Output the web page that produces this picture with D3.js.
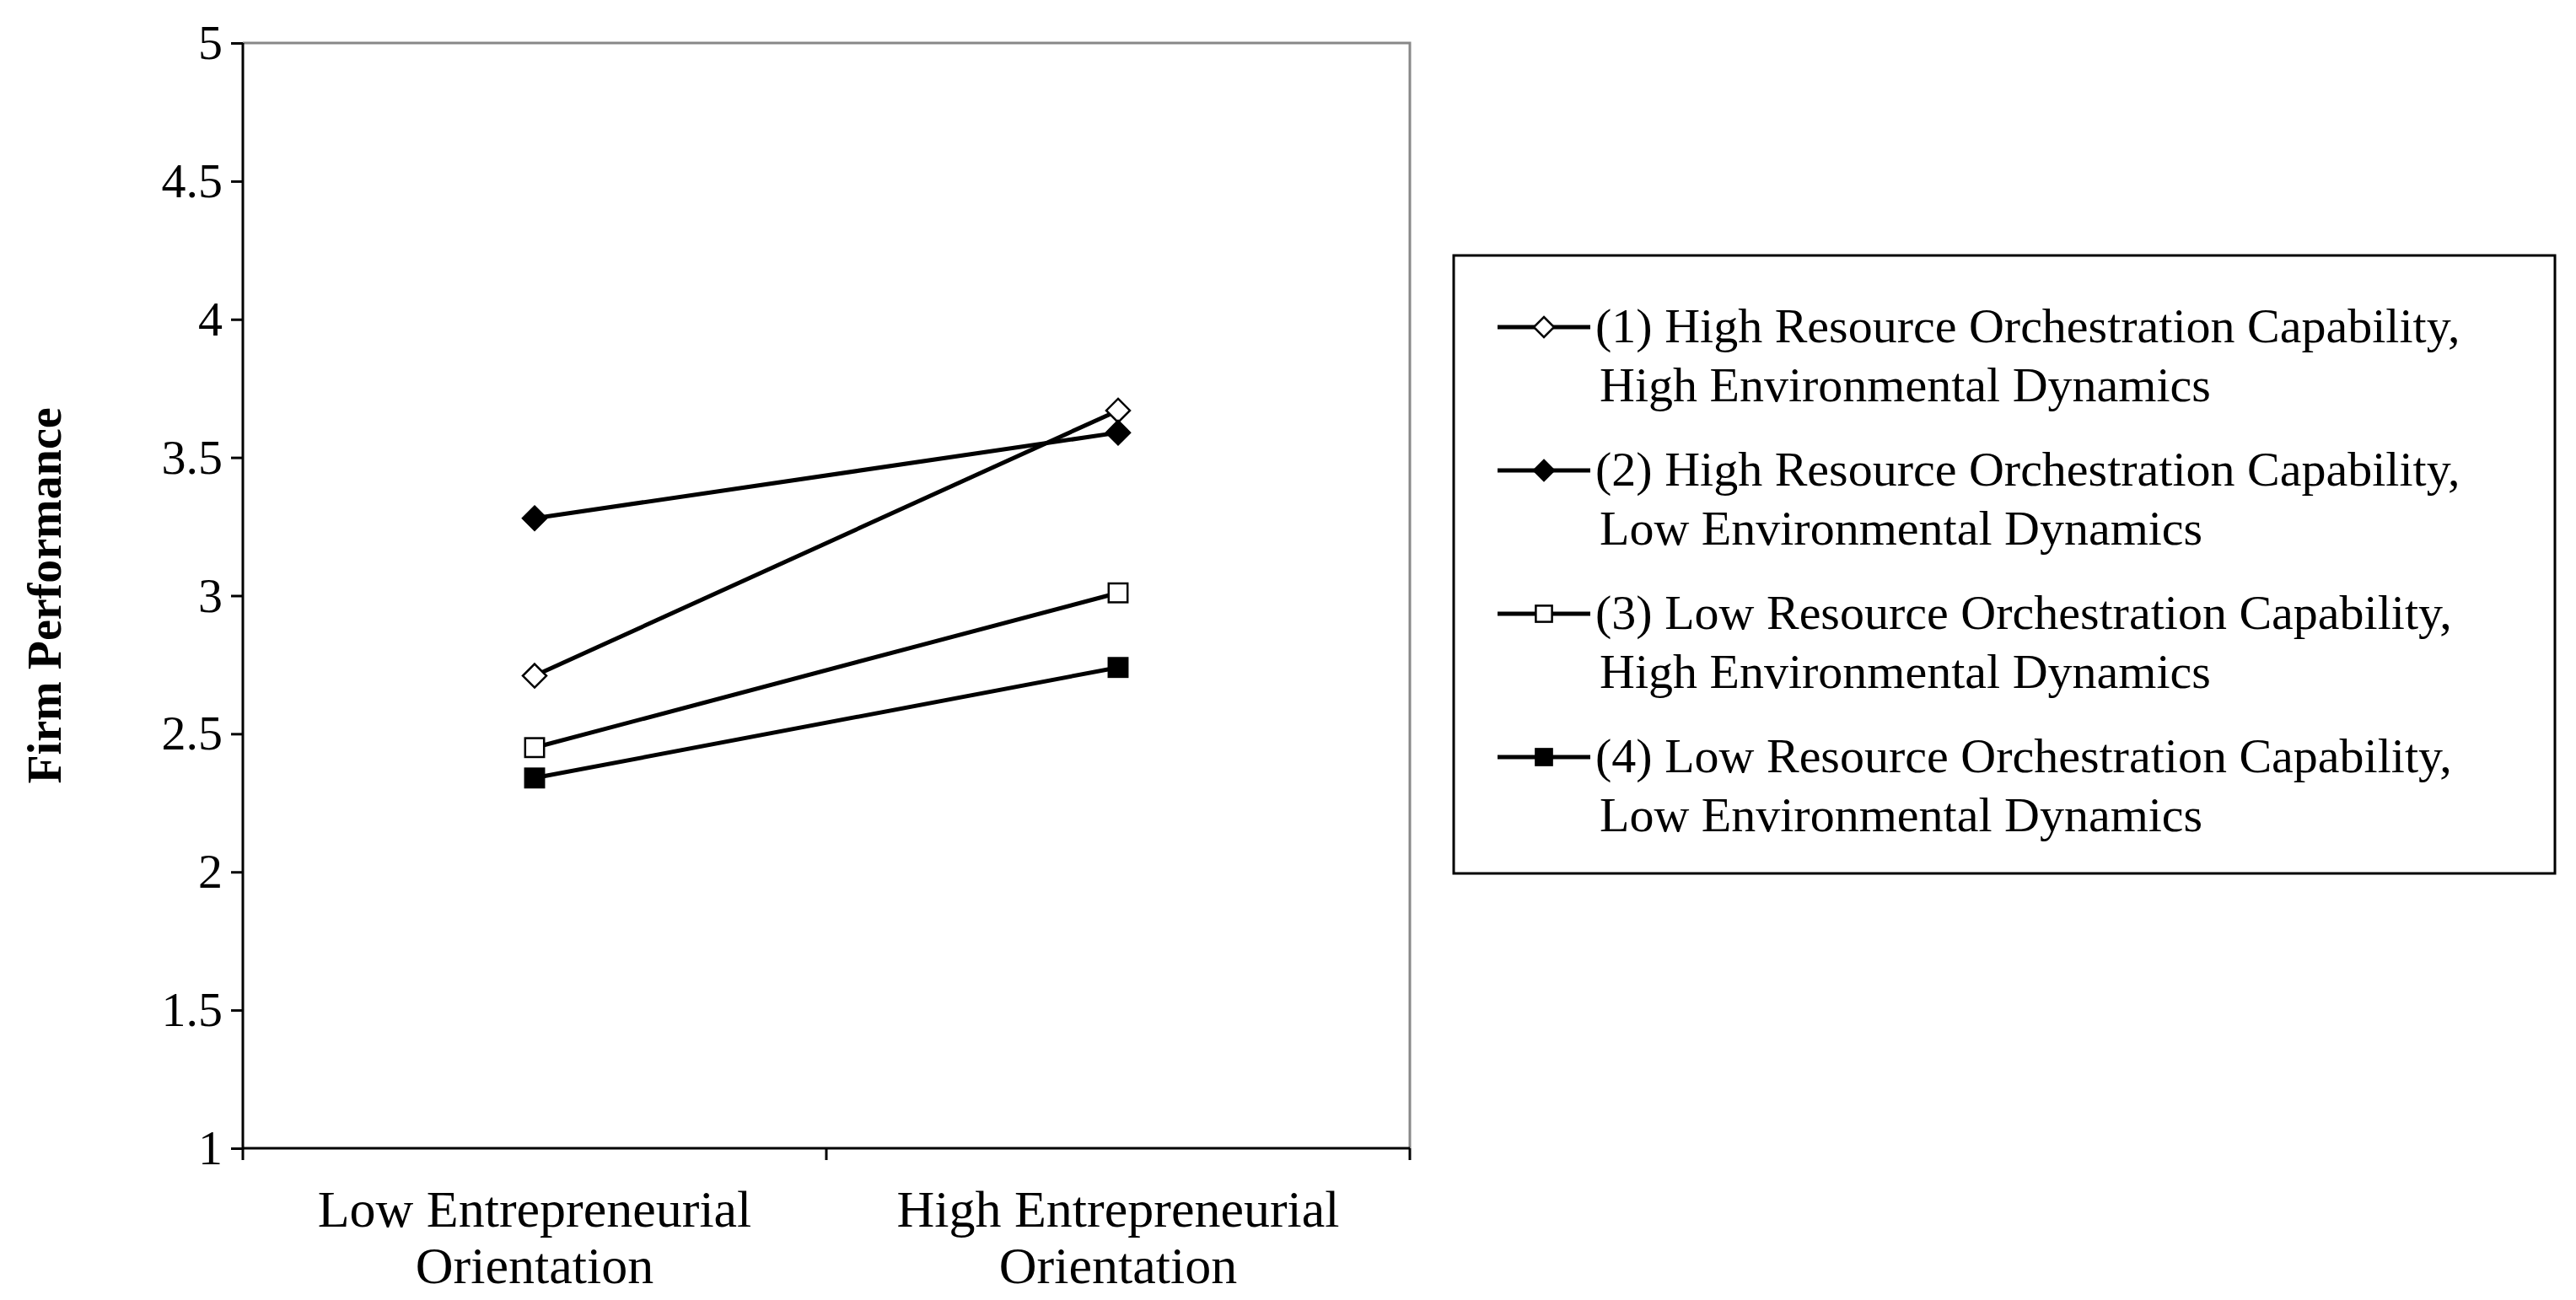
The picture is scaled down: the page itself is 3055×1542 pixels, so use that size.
<!DOCTYPE html>
<html>
<head>
<meta charset="utf-8">
<script src="https://cdn.jsdelivr.net/npm/d3@7"></script>
<style>
body { margin: 0; background: #fff; }
text { font-family: "Liberation Serif", "Times New Roman", serif; }
</style>
</head>
<body>
<script>
var categories = ["Low Entrepreneurial|Orientation", "High Entrepreneurial|Orientation"];
var series_names = [
    ["(1) High Resource Orchestration Capability,", "High Environmental Dynamics"],
    ["(2) High Resource Orchestration Capability,", "Low Environmental Dynamics"],
    ["(3) Low Resource Orchestration Capability,", "High Environmental Dynamics"],
    ["(4) Low Resource Orchestration Capability,", "Low Environmental Dynamics"]
];
var series_values = [
    [2.71, 3.67],
    [3.28, 3.59],
    [2.45, 3.01],
    [2.34, 2.74]
];
var symbols = ["diamond", "diamond", "square", "square"];
var filled = [false, true, false, true];
var y_ticks = [1, 1.5, 2, 2.5, 3, 3.5, 4, 4.5, 5];

var W = 3055, H = 1542;
var pLeft = 288, pRight = 1672, pTop = 51, pBottom = 1362;

var svg = d3.select("body").append("svg")
    .attr("width", W)
    .attr("height", H);

var x = d3.scaleBand().domain(categories).range([pLeft, pRight]);
var y = d3.scaleLinear().domain([1, 5]).range([pBottom, pTop]);

// gray top / right frame
svg.append("path")
    .attr("d", "M" + pLeft + "," + pTop + "H" + pRight + "V" + pBottom)
    .attr("fill", "none").attr("stroke", "#888").attr("stroke-width", 3);

var ya = svg.append("g")
    .attr("transform", "translate(" + pLeft + ",0)")
    .call(d3.axisLeft(y).tickValues(y_ticks).tickSize(14).tickPadding(10)
        .tickFormat(function(d) { return String(d); }));
ya.selectAll("text").attr("font-size", 58).attr("font-family", "Liberation Serif").attr("fill", "#000");
ya.selectAll("line, path").attr("stroke", "#000").attr("stroke-width", 3);
ya.select(".domain").attr("d", "M0," + pTop + "V" + pBottom);

var xa = svg.append("g")
    .attr("transform", "translate(0," + pBottom + ")")
    .call(d3.axisBottom(x).tickSize(0).tickFormat(""));
xa.selectAll("line, path").attr("stroke", "#000").attr("stroke-width", 3);
xa.select(".domain").attr("d", "M" + pLeft + ",0H" + pRight);
// boundary ticks
var bounds = [pLeft, pLeft + x.bandwidth(), pRight];
svg.selectAll(".xt").data(bounds).enter().append("line")
    .attr("x1", function(d) { return d; }).attr("x2", function(d) { return d; })
    .attr("y1", pBottom).attr("y2", pBottom + 14)
    .attr("stroke", "#000").attr("stroke-width", 3);

categories.forEach(function(c) {
    var cx = x(c) + x.bandwidth() / 2;
    var t = svg.append("text")
        .attr("x", cx)
        .attr("y", pBottom + 93)
        .attr("text-anchor", "middle")
        .attr("font-size", 62);
    c.split("|").forEach(function(s, i) {
        t.append("tspan").attr("x", cx).attr("dy", i ? 67 : 0).text(s);
    });
});

svg.append("text")
    .attr("transform", "translate(72," + ((pTop + pBottom) / 2) + ") rotate(-90)")
    .attr("text-anchor", "middle")
    .attr("font-size", 56)
    .attr("font-weight", "bold")
    .text("Firm Performance");

function marker(g, i, cx, cy, s) {
    if (symbols[i] === "diamond") {
        g.append("path")
            .attr("d", "M" + cx + "," + (cy - s) + "L" + (cx + s) + "," + cy + "L" + cx + "," + (cy + s) + "L" + (cx - s) + "," + cy + "Z")
            .attr("fill", filled[i] ? "#000" : "#fff").attr("stroke", "#000").attr("stroke-width", 2.5);
    } else {
        g.append("rect")
            .attr("x", cx - s * 0.8).attr("y", cy - s * 0.8).attr("width", s * 1.6).attr("height", s * 1.6)
            .attr("fill", filled[i] ? "#000" : "#fff").attr("stroke", "#000").attr("stroke-width", 2.5);
    }
}

var line = d3.line()
    .x(function(d, j) { return x(categories[j]) + x.bandwidth() / 2; })
    .y(function(d) { return y(d); });

series_values.forEach(function(vals, i) {
    var g = svg.append("g");
    g.append("path").attr("d", line(vals)).attr("fill", "none")
        .attr("stroke", "#000").attr("stroke-width", 5);
    vals.forEach(function(v, j) {
        marker(g, i, x(categories[j]) + x.bandwidth() / 2, y(v), 14);
    });
});

// legend
var lg = svg.append("g");
lg.append("rect").attr("x", 1724).attr("y", 303).attr("width", 1306).attr("height", 733)
    .attr("fill", "#fff").attr("stroke", "#000").attr("stroke-width", 3);
var rowY = [388, 558, 728, 898];
series_names.forEach(function(n, i) {
    var yy = rowY[i];
    lg.append("line").attr("x1", 1776).attr("x2", 1886).attr("y1", yy).attr("y2", yy)
        .attr("stroke", "#000").attr("stroke-width", 5);
    marker(lg, i, 1831, yy, 12);
    var t = lg.append("text").attr("x", 1892).attr("y", yy + 18).attr("font-size", 58);
    t.append("tspan").attr("x", 1892).text(n[0]);
    t.append("tspan").attr("x", 1897).attr("dy", 70).text(n[1]);
});
</script>
</body>
</html>
